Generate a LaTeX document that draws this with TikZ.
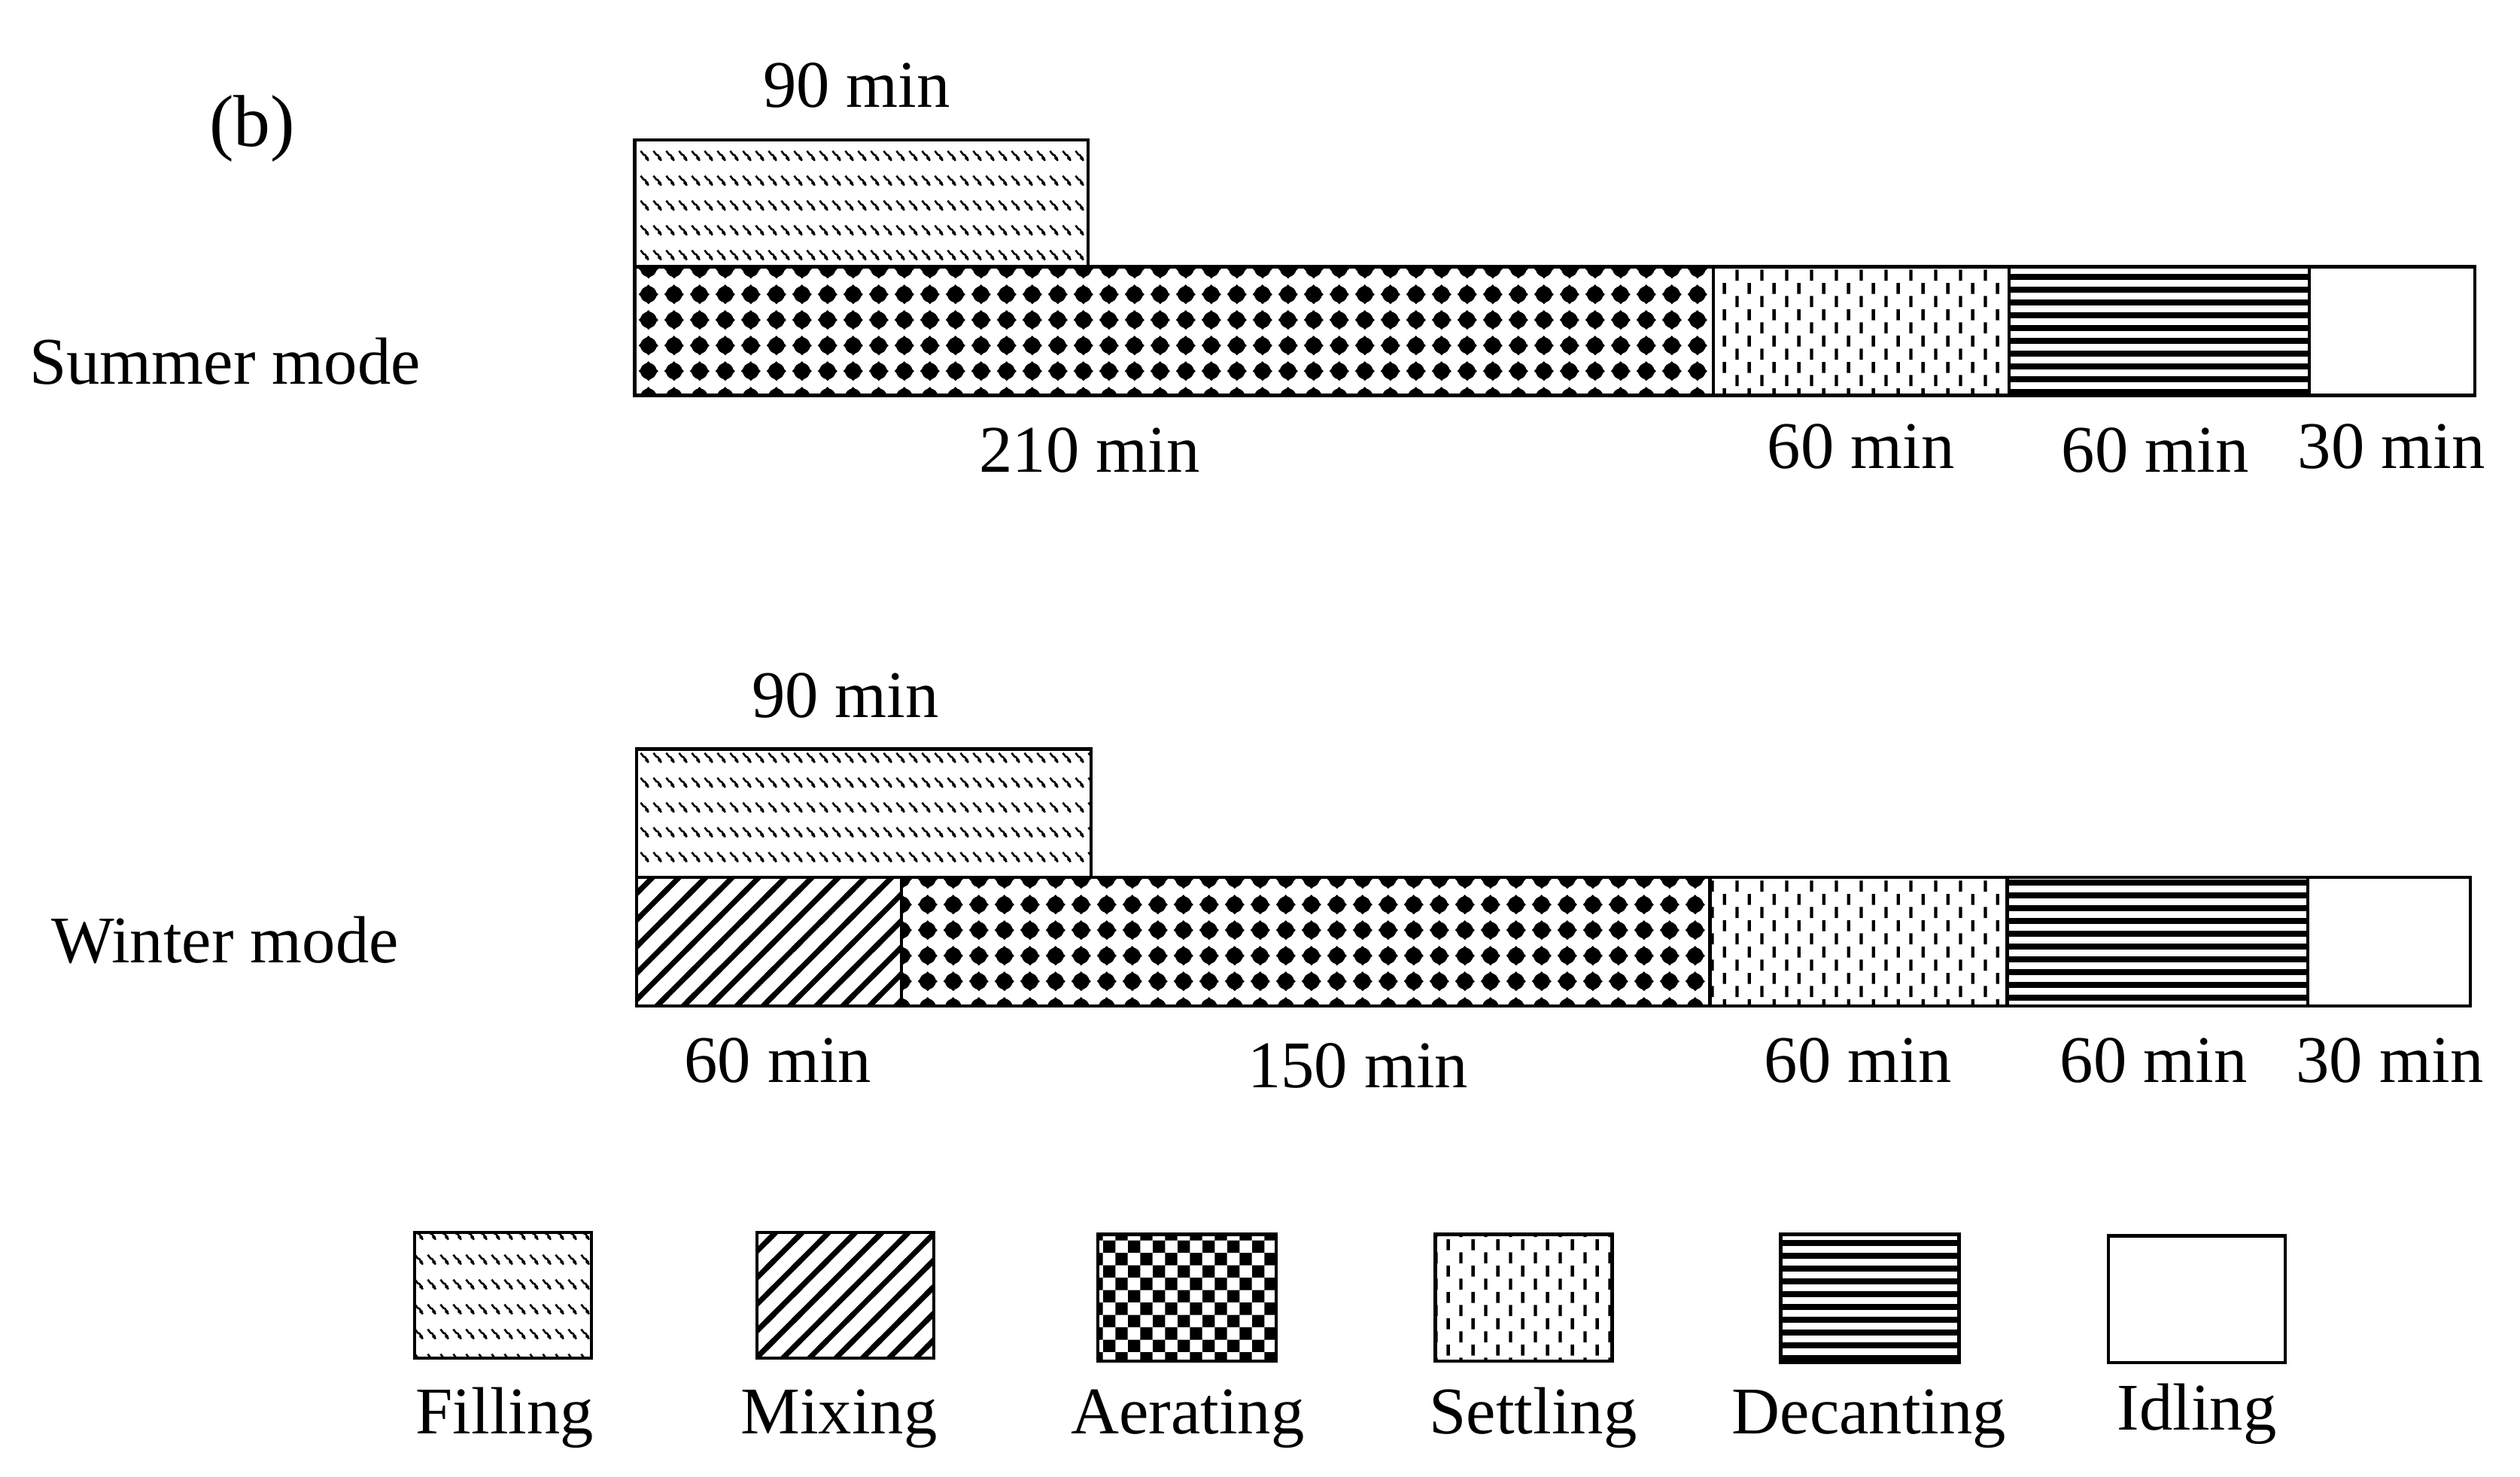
\documentclass[tikz,border=0pt]{standalone}
\usepackage{fontspec}
\setmainfont{Liberation Serif}
\usetikzlibrary{patterns}

% Filling: rows of small slanted squiggles
\pgfdeclarepatternformonly{fillpat}{\pgfpointorigin}{\pgfpoint{2.22pt}{4.44pt}}{\pgfpoint{2.22pt}{4.44pt}}{%
  \pgfsetlinewidth{0.35pt}%
  \pgfpathmoveto{\pgfpoint{0.2pt}{4.1pt}}%
  \pgfpathlineto{\pgfpoint{0.7pt}{3.45pt}}%
  \pgfpathlineto{\pgfpoint{1.0pt}{3.35pt}}%
  \pgfpathlineto{\pgfpoint{1.6pt}{2.35pt}}%
  \pgfusepath{stroke}%
  \pgfpathcircle{\pgfpoint{1.3pt}{2.8pt}}{0.32pt}%
  \pgfusepath{fill}%
}
% Aerating (bars): grid of star-like blobs
\pgfdeclarepatternformonly{aerpat}{\pgfpointorigin}{\pgfpoint{4.5pt}{4.5pt}}{\pgfpoint{4.5pt}{4.5pt}}{%
  \pgfpathcircle{\pgfpoint{2.25pt}{2.25pt}}{1.45pt}%
  \pgfusepath{fill}%
  \pgfpathmoveto{\pgfpoint{2.25pt}{0.5pt}}%
  \pgfpathlineto{\pgfpoint{4.0pt}{2.25pt}}%
  \pgfpathlineto{\pgfpoint{2.25pt}{4.0pt}}%
  \pgfpathlineto{\pgfpoint{0.5pt}{2.25pt}}%
  \pgfpathclose
  \pgfusepath{fill}%
}
% Settling: staggered short vertical dashes
\pgfdeclarepatternformonly{setpat}{\pgfpointorigin}{\pgfpoint{4.44pt}{4.7pt}}{\pgfpoint{4.44pt}{4.7pt}}{%
  \pgfpathrectangle{\pgfpoint{0.85pt}{0.4pt}}{\pgfpoint{0.6pt}{2.0pt}}%
  \pgfpathrectangle{\pgfpoint{3.05pt}{2.75pt}}{\pgfpoint{0.6pt}{2.0pt}}%
  \pgfusepath{fill}%
}
% Decanting: horizontal stripes
\pgfdeclarepatternformonly{decpat}{\pgfpointorigin}{\pgfpoint{2pt}{2.28pt}}{\pgfpoint{2pt}{2.28pt}}{%
  \pgfpathrectangle{\pgfpoint{-0.1pt}{0pt}}{\pgfpoint{2.2pt}{1.1pt}}%
  \pgfusepath{fill}%
}
% Mixing: thick north-east lines
\pgfdeclarepatternformonly{mixpat}{\pgfpoint{-1pt}{-1pt}}{\pgfpoint{5.7pt}{5.7pt}}{\pgfpoint{4.7pt}{4.7pt}}{%
  \pgfsetlinewidth{0.95pt}%
  \pgfpathmoveto{\pgfpoint{-1pt}{-1pt}}\pgfpathlineto{\pgfpoint{5.7pt}{5.7pt}}%
  \pgfusepath{stroke}%
}
% Aerating (legend): checkerboard
\pgfdeclarepatternformonly{chkpat}{\pgfpointorigin}{\pgfpoint{4.44pt}{4.44pt}}{\pgfpoint{4.44pt}{4.44pt}}{%
  \pgfpathrectangle{\pgfpointorigin}{\pgfpoint{2.22pt}{2.22pt}}%
  \pgfpathrectangle{\pgfpoint{2.22pt}{2.22pt}}{\pgfpoint{2.22pt}{2.22pt}}%
  \pgfusepath{fill}%
}

\tikzset{
  seg/.style={draw=black, line width=0.6pt},
  lbl/.style={inner sep=0pt, font=\fontsize{11.8}{14}\selectfont},
}

\begin{document}
\begin{tikzpicture}[x=0.01cm, y=-0.01cm]
\useasboundingbox (0,0) rectangle (1568,919);

% panel label
\node[lbl, font=\fontsize{13}{15}\selectfont] (panel) at (157,80) {(b)};

% ---------- Summer mode ----------
\node[lbl] (smode) at (140,225) {Summer mode};
\draw[seg, pattern=fillpat] (395,87) rectangle (677,166);
\draw[seg, pattern=aerpat] (395,166) rectangle (1066,246);
\draw[seg, pattern=setpat] (1066,166) rectangle (1250,246);
\draw[seg, pattern=decpat] (1250,166) rectangle (1437,246);
\draw[seg] (1437,166) rectangle (1540,246);
\node[lbl] (sfill) at (533,53) {90 min};
\node[lbl] (saer)  at (678,280) {210 min};
\node[lbl] (sset)  at (1158,278) {60 min};
\node[lbl] (sdec)  at (1341,280) {60 min};
\node[lbl] (sidl)  at (1488,278) {30 min};

% ---------- Winter mode ----------
\node[lbl] (wmode) at (140,585) {Winter mode};
\draw[seg, pattern=fillpat] (396,466) rectangle (679,546);
\draw[seg, pattern=mixpat] (396,546) rectangle (561,626);
\draw[seg, pattern=aerpat] (561,546) rectangle (1064,626);
\draw[seg, pattern=setpat] (1064,546) rectangle (1249,626);
\draw[seg, pattern=decpat] (1249,546) rectangle (1436,626);
\draw[seg] (1436,546) rectangle (1537,626);
\node[lbl] (wfill) at (526,433) {90 min};
\node[lbl] (wmix)  at (484,660) {60 min};
\node[lbl] (waer)  at (845,663) {150 min};
\node[lbl] (wset)  at (1156,660) {60 min};
\node[lbl] (wdec)  at (1340,660) {60 min};
\node[lbl] (widl)  at (1487,660) {30 min};

% ---------- Legend ----------
\draw[seg, pattern=fillpat] (258,767) rectangle (368,845);
\draw[seg, pattern=mixpat] (471,767) rectangle (581,845);
\draw[seg, pattern=chkpat] (683,768) rectangle (794,847);
\draw[seg, pattern=setpat] (893,768) rectangle (1003,847);
\draw[seg, pattern=decpat] (1108,768) rectangle (1219,848);
\draw[seg] (1312,769) rectangle (1422,848);
\node[lbl, anchor=base] (lfill) at (314,892) {Filling};
\node[lbl, anchor=base] (lmix)  at (522,892) {Mixing};
\node[lbl, anchor=base] (laer)  at (739,892) {Aerating};
\node[lbl, anchor=base] (lset)  at (954,892) {Settling};
\node[lbl, anchor=base] (ldec)  at (1163,892) {Decanting};
\node[lbl, anchor=base] (lidl)  at (1367,890) {Idling};
\end{tikzpicture}
\end{document}
